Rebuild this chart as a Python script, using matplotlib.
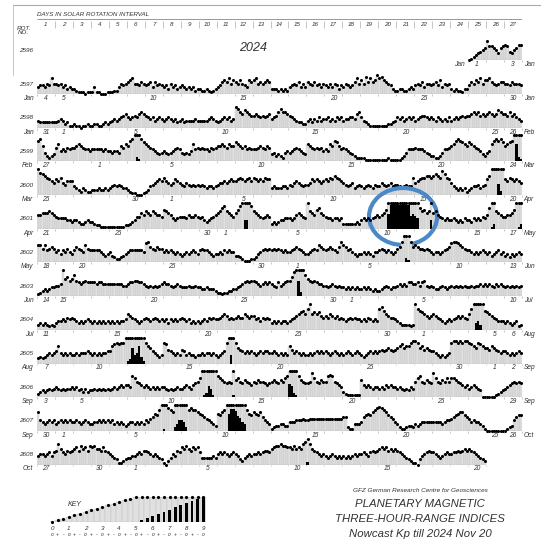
import datetime as dt
import numpy as np
import matplotlib.pyplot as plt
from matplotlib.lines import Line2D
from matplotlib.patches import Ellipse

plt.rcParams['font.family'] = ['Liberation Sans', 'DejaVu Sans']

W = H = 541

# Kp coded in thirds: 0o 0+ 1- 1o 1+ 2- ... 9- 9o
codes = "0123456789abcdefghijklmnopqr"

rotations = [2596, 2597, 2598, 2599, 2600, 2601, 2602, 2603, 2604, 2605, 2606, 2607, 2608]
first_day = dt.date(2023, 12, 8)   # day 1 of rotation 2596

# one group of eight 3-hour values per day
kp_2596 = "01234567 b8876478 98546799"
kp_2597 = ("45546596 65645343 32111011 14110001 11224656 78966576 56747565 45364534 54343423 "
           "32232123 45787968 76865487 89676787 33323232 45657464 76575646 54646535 46545796 "
           "86a7978b 9a876532 23322343 56574665 67584656 32322133 57687968 89765677 66576665")
kp_2598 = ("43333333 34542311 21101121 12211232 34545678 65676898 76564565 45654534 53444454 "
           "44445654 34565645 cb98a987 78767678 5679b998 76543322 45354645 56454656 45566589 "
           "64321111 11112234 65645656 45677656 54654546 45656767 78989787 89878a98 87978654")
kp_2599 = ("cd953234 8a676878 89a98776 77777676 6566598a 9cdfhgdb a9876545 65456787 54546a78 "
           "78776878 99a98a99 ba989787 77898798 45343256 56787654 a9878786 76a9cb97 87654322 "
           "22111111 11112111 11235777 87776543 32235778 9acdcba9 ba987643 56acdcdb 9abcfnhg")
kp_2600 = ("fdcba987 98a76888 54324322 33343343 45656544 32110001 23567898 a8767987 65765656 "
           "56545545 67787898 89a989a8 a9898a99 45444554 65787656 67989878 98a9ba98 76567456 "
           "54565465 57656756 6545655a 789aabba bcbaeca9 75434342 34556456 9bfffkhf 98a98987")
kp_2601 = ("88999a98 76666554 55433454 43221111 11111112 23457798 a98a9887 ba986567 77687787 "
           "67545678 9acda987 9bdfjjfd a9876787 34345566 65689876 fa98bc98 76656656 33333343 "
           "56565678 789bmqrr rqqrqqlm lkcab9aj 9a876565 56545465 54656576 8cgha987 7889bfgh")
kp_2602 = ("aa8a7898 67576865 79876a87 77776545 64322345 67777776 bc987988 67676565 45656765 "
           "78776545 56576766 44321112 23567878 78787676 67898765 56787a98 7898769c a9786545 "
           "56565466 78767656 89cfhgc9 a9887876 56656789 bccba987 76565676 56456756 45354565")
kp_2603 = ("12343455 667fab9a c9878988 88788777 77777766 78899887 65656567 87765676 55565565 "
           "54454443 22122334 45678989 98767878 76586789 9befmhfc a9898776 65676565 54545454 "
           "45454343 34565455 67676887 78689656 54456545 65656565 56566767 67657676 56565656")
kp_2604 = ("34343232 45565767 65454565 45454545 45454556 98765456 76567656 56465656 76564545 "
           "45657676 67898676 78779878 86757676 45454554 56789ab9 cf9a9a87 87987867 65676766 "
           "56576565 cdb98776 54333323 fcba9878 98765456 56787876 9cfijhfb a9876555 45434523")
kp_2605 = ("34345656 7a656565 56566676 56565667 7abcbccf ghmjknig ca976545 cb876565 87565545 "
           "56566565 4567cfjf c9876767 65676776 67656565 a8676565 56567676 76567656 56765676 "
           "54567676 78789878 9ab9aacd dc9a8987 76545456 cddcdcdd cba9cba9 98a98767 76565676")
kp_2606 = ("23434545 65454556 56453534 45454545 45656767 76cb9876 76565656 65454565 56765789 "
           "bfghkjgf cba9898g ab98a987 98a99878 9a98a9bc lkhgca98 89eb98a9 9cdc9876 32111111 "
           "a7676566 56576766 56545465 9bc98a98 eb98a9b9 bba98767 56765400 00001234 56789898")
kp_2607 = ("b6545656 45656565 56545654 45565656 56454543 45545454 6578a9cf gfdcbhik kjhcdccb "
           "a9876543 a9bcfnpp omljica9 ba9b8654 12334433 55566676 67777777 77777777 88211444 "
           "589a9bcd edcb9875 42112332 43455555 55554566 789abb98 75655431 00000000 01236899")
kp_2608 = ("56656757 8c976878 9a8b9a8b ab998a87 65431123 44556768 87656543 10246587 a9b98a9a "
           "74444454 67676567 65324565 66767887 9abbcbba a9b9a9cd gc987656 54565454 54545656 "
           "67657878 9a9a8989 87654321 10356787 76545676 67787898 98765432")

kp_rows = [kp_2596, kp_2597, kp_2598, kp_2599, kp_2600, kp_2601, kp_2602,
           kp_2603, kp_2604, kp_2605, kp_2606, kp_2607, kp_2608]
first_data_day = [24] + [0] * 12
marked_days = (1, 5, 10, 15, 20, 25, 30)


def decode(s):
    return np.array([codes.index(c) for c in s.replace(" ", "")]) / 3.0


def fx(x):
    return x / W


def fy(y):
    return 1 - y / H


fig = plt.figure(figsize=(W / 100, H / 100), dpi=100)

txt = dict(style='italic', color='#333333')
fill = dict(color='#e0e0e0', edgecolor='#bababa', linewidth=0.25)

X0, X1, ROW_H = 37, 522, 26
for i, rot in enumerate(rotations):
    base = 60.3 + 33.69 * i
    ax = fig.add_axes([fx(X0), fy(base), (X1 - X0) / W, ROW_H / H])
    ax.set_xlim(0, 27)
    ax.set_ylim(0, 5)
    ax.axis('off')

    kp = decode(kp_rows[i])
    d0 = first_data_day[i]
    x = (d0 * 8 + np.arange(len(kp)) + 0.5) / 8
    dot = np.minimum(kp, 5)
    ax.bar(x, dot, width=1 / 8, **fill)
    hi = kp > 5
    ax.bar(x[hi], (kp[hi] - 5) * 5 / 4, width=1 / 8, color='k', linewidth=0)
    ax.plot(x, dot, 'o', ms=2.2, color='k', mew=0, clip_on=False)

    n_days = len(kp) // 8
    last = d0 + n_days
    ax.vlines(np.arange(d0, last + 1), -0.35, 0, color='#999999', lw=0.4, clip_on=False)
    start = first_day + dt.timedelta(days=27 * (rot - rotations[0]))
    for d in range(d0, last):
        date = start + dt.timedelta(days=d)
        if d == d0 or d == 26 or date.day in marked_days:
            ax.text(d + 0.5, -0.85, str(date.day), ha='center', va='center',
                    fontsize=4.8, clip_on=False, **txt)
    month0 = (start + dt.timedelta(days=d0)).strftime('%b')
    ax.text(d0 - 0.2, -0.85, month0, ha='right', va='center', fontsize=4.8, **txt)
    if last == 27:
        ax.text(27.1, -0.85, (start + dt.timedelta(days=26)).strftime('%b'),
                ha='left', va='center', fontsize=4.8, **txt)
    ax.text(-0.22, 1.92, str(rot), ha='right', va='center', fontsize=4.6, **txt)

    if rot == 2601:
        ax.add_patch(Ellipse((20.38, 2.36), 3.79, 10.96, fill=False,
                             edgecolor='#4a88c8', lw=3.0, clip_on=False))

# header with day numbers
hx = fig.add_axes([fx(X0), fy(29), (X1 - X0) / W, 11 / H])
hx.set_xlim(0, 27)
hx.set_ylim(0, 11)
hx.axis('off')
hx.hlines(10.5, 0, 27, color='#888888', lw=0.6)
hx.vlines(np.arange(1, 27), 1.5, 8, color='#999999', lw=0.4)
hx.vlines(27, 1, 10.5, color='#888888', lw=0.6)
for d in range(1, 28):
    hx.text(d - 0.5, 4.5, str(d), ha='center', va='center', fontsize=4.5, **txt)
fig.text(fx(37), fy(15), 'DAYS IN SOLAR ROTATION INTERVAL', ha='left', va='center',
         fontsize=4.5, **txt)
fig.text(fx(17), fy(28), 'ROT.', ha='left', va='center', fontsize=4.5, **txt)
fig.text(fx(18), fy(33), 'NO.', ha='left', va='center', fontsize=4.5, **txt)
fig.text(fx(253), fy(48), '2024', ha='center', va='center', fontsize=9, **txt)

# light frame of the scanned sheet
fig.add_artist(Line2D([fx(13), 1], [fy(5), fy(5)], color='#aaaaaa', lw=0.8))
fig.add_artist(Line2D([fx(13), fx(13)], [fy(5), fy(75)], color='#bbbbbb', lw=0.6))

# key
key_kp = decode(codes)
kx = fig.add_axes([fx(49.2), fy(522), 156.8 / W, 25 / H])
kx.set_xlim(-0.5, 27.5)
kx.set_ylim(0, 5)
kx.axis('off')
kpos = np.arange(len(key_kp))
kdot = np.minimum(key_kp, 5)
kx.bar(kpos, kdot, width=1, **fill)
khi = key_kp > 5
kx.bar(kpos[khi], (key_kp[khi] - 5) * 5 / 4, width=0.5, color='k', linewidth=0)
kx.plot(kpos, kdot, 'o', ms=2.3, color='k', mew=0, clip_on=False)
for k in range(10):
    kx.text(3 * k, -1.4, str(k), ha='center', va='center', fontsize=4.5, **txt)
for p, s in zip(kpos, ['o', '+', '-'] * 10):
    kx.text(p, -2.6, s, ha='center', va='center', fontsize=3.5, **txt)
fig.text(fx(75), fy(505), 'KEY', ha='center', va='center', fontsize=5, **txt)

# source block
fig.text(fx(420), fy(491), 'GFZ German Research Centre for Geosciences', ha='center',
         va='center', fontsize=4.6, **txt)
fig.text(fx(420), fy(504), 'PLANETARY MAGNETIC', ha='center', va='center', fontsize=8.2, **txt)
fig.text(fx(420), fy(519), 'THREE-HOUR-RANGE INDICES', ha='center', va='center',
         fontsize=8.2, **txt)
fig.text(fx(420), fy(534), 'Nowcast Kp till 2024 Nov 20', ha='center', va='center',
         fontsize=8.2, **txt)

fig.savefig('out.png', dpi=100)
